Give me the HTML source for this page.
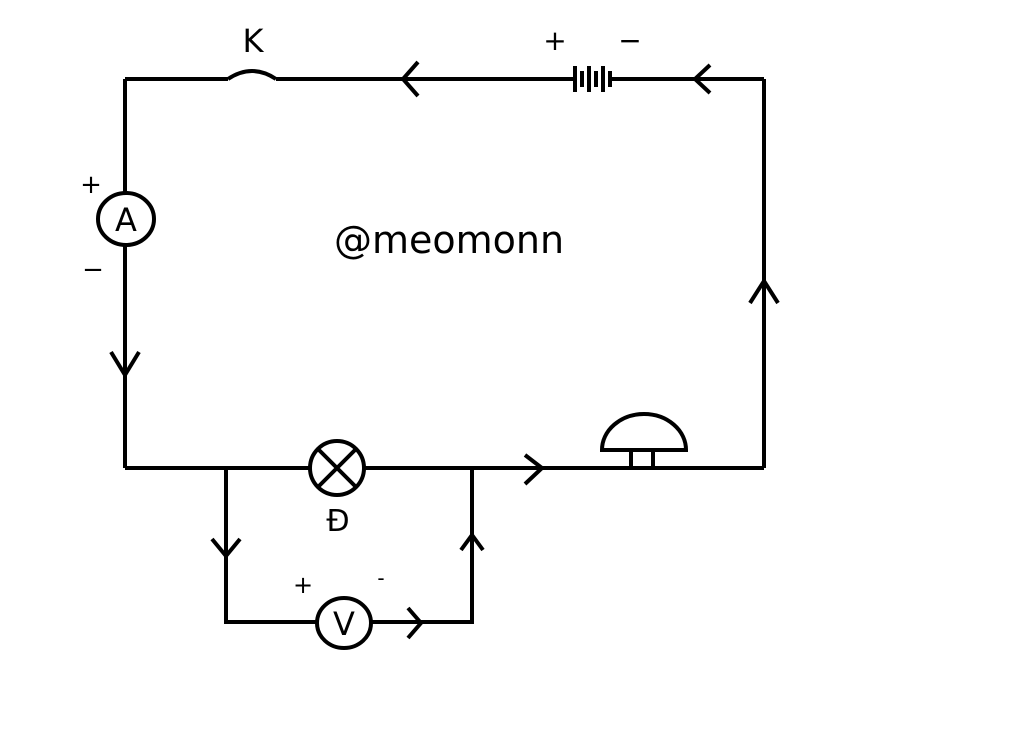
<!DOCTYPE html>
<html><head><style>
html,body{margin:0;padding:0;background:#fff;}
</style></head><body>
<svg width="1024" height="736" viewBox="0 0 1024 736" xmlns="http://www.w3.org/2000/svg">
<rect width="1024" height="736" fill="#fff"/>
<g stroke="#000" stroke-width="4" fill="none" stroke-linecap="butt">
<path d="M125 79 H228"/>
<path d="M228 79 Q252 63 276 79"/>
<path d="M276 79 H575"/>
<path d="M611 79 H764"/>
<path d="M764 79 V468"/>
<path d="M125 79 V193"/>
<path d="M125 246 V468"/>
<path d="M125 468 H310"/>
<path d="M364 468 H764"/>
<path d="M226 468 V622 H317"/>
<path d="M371 622 H472 V468"/>
<ellipse cx="126" cy="219" rx="28" ry="26"/>
<circle cx="337" cy="468" r="27"/>
<path d="M318 449 L356 487 M356 449 L318 487"/>
<ellipse cx="344" cy="623" rx="27" ry="25"/>
<path d="M602 450 A42 36 0 0 1 686 450 Z"/>
<path d="M631 450 V468 M653 450 V468"/>
<path d="M418 62 L403 79 L418 96"/>
<path d="M710 65 L695 79 L710 93"/>
<path d="M111 352 L125 375 L139 352"/>
<path d="M750 303 L764 281 L778 303"/>
<path d="M525 455 L542 468 L525 484"/>
<path d="M212 539 L226 556 L240 539"/>
<path d="M461 550 L472 535 L483 550"/>
<path d="M408 608 L421 623 L408 638"/>
</g>
<g stroke="#000" stroke-width="4">
<path d="M575 66 V92 M589 66 V92 M603 66 V92"/>
<path d="M582 71 V87 M596 71 V87 M610 71 V87"/>
</g>
<g font-family="DejaVu Sans, Liberation Sans, sans-serif" fill="#000" text-anchor="middle">
<text x="253" y="52" font-size="32">K</text>
<text x="555" y="50" font-size="28">+</text>
<text x="630" y="50" font-size="28">−</text>
<text x="91" y="193" font-size="26">+</text>
<text x="93" y="278" font-size="26">−</text>
<text x="126" y="231" font-size="32">A</text>
<text x="344" y="635" font-size="32">V</text>
<text x="338" y="531" font-size="30">Đ</text>
<text x="303" y="593" font-size="24">+</text>
<text x="381" y="585" font-size="20">-</text>
<text x="449" y="253" font-size="38">@meomonn</text>
</g>
</svg>
</body></html>
